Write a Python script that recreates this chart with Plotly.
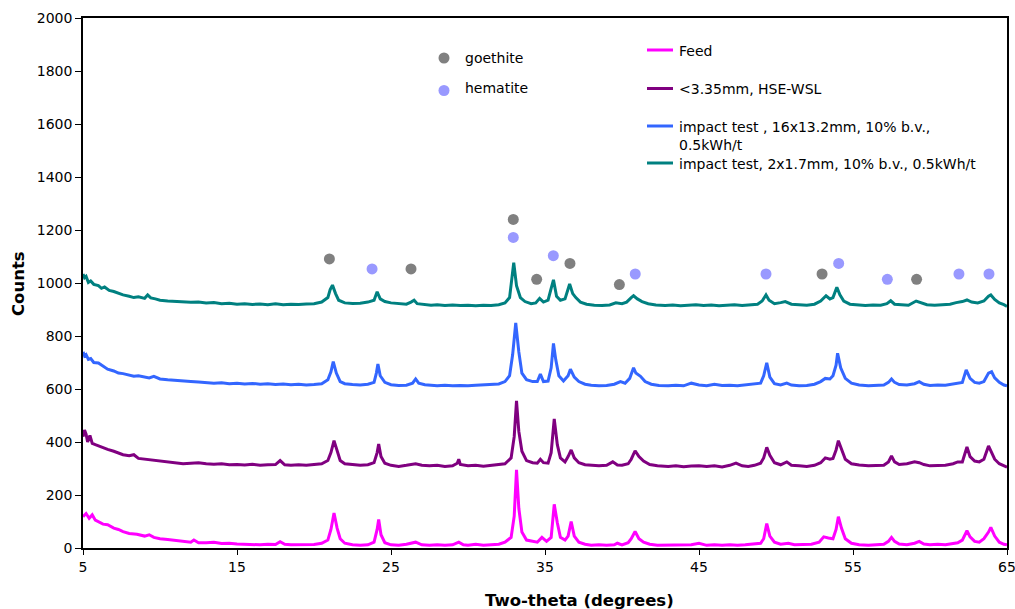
import plotly.graph_objects as go

# ---------------- data ----------------
feed_x = [5.0, 5.2, 5.4, 5.6, 5.8, 6.0, 6.3, 6.6, 7.0, 7.3, 7.6, 8.0, 8.5, 9.0, 9.3, 9.6, 10.0, 10.5, 11.0, 11.5,
          12.0, 12.2, 12.5, 13.0, 13.5, 14.0, 14.5, 15.0, 15.5, 16.0, 16.5, 17.0, 17.5, 17.8, 18.1, 18.5, 19.0, 19.5,
          20.0, 20.5, 20.9, 21.1, 21.3, 21.5, 21.7, 22.0, 22.5, 23.0, 23.5, 23.9, 24.1, 24.2, 24.35, 24.6, 25.0, 25.5,
          26.0, 26.6, 27.0, 27.5, 28.0, 28.5, 29.0, 29.4, 29.7, 30.0, 30.5, 31.0, 31.5, 32.0, 32.4, 32.8, 33.0, 33.15,
          33.3, 33.5, 33.8, 34.2, 34.5, 34.8, 35.1, 35.4, 35.6, 35.8, 36.0, 36.3, 36.5, 36.7, 36.9, 37.2, 37.6, 38.0,
          38.5, 39.0, 39.5, 39.7, 40.0, 40.4, 40.6, 40.85, 41.1, 41.4, 41.8, 42.3, 43.0, 43.5, 44.0, 44.5, 45.0, 45.5,
          46.0, 46.5, 47.0, 47.5, 48.0, 48.5, 49.0, 49.2, 49.4, 49.6, 49.9, 50.3, 50.8, 51.2, 51.8, 52.3, 52.8, 53.1,
          53.4, 53.7, 53.9, 54.05, 54.25, 54.5, 54.9, 55.4, 56.0, 56.5, 57.0, 57.3, 57.5, 57.7, 58.0, 58.5, 59.0, 59.3,
          59.6, 60.0, 60.5, 61.0, 61.5, 61.8, 62.1, 62.4, 62.6, 62.9, 63.2, 63.5, 63.8, 63.95, 64.2, 64.5, 64.8, 65.0]
feed_y = [118, 130, 112, 125, 105, 100, 90, 88, 75, 70, 62, 55, 52, 45, 50, 40, 35, 32, 28, 26,
          22, 30, 20, 20, 22, 17, 18, 15, 14, 13, 12, 14, 13, 24, 14, 12, 13, 12,
          13, 18, 30, 70, 132, 75, 35, 18, 12, 10, 12, 22, 70, 108, 50, 20, 12, 10,
          14, 22, 12, 10, 12, 10, 12, 22, 12, 10, 14, 10, 12, 14, 22, 40, 120, 295,
          150, 60, 30, 25, 22, 40, 25, 40, 165, 95, 40, 30, 45, 100, 45, 22, 14, 10,
          12, 10, 12, 18, 12, 20, 35, 62, 35, 22, 14, 10, 10, 12, 10, 12, 18, 10,
          12, 10, 12, 10, 12, 15, 18, 35, 92, 45, 22, 14, 18, 12, 12, 14, 22, 42,
          38, 35, 70, 118, 75, 35, 18, 12, 10, 12, 14, 25, 40, 25, 15, 12, 18, 25,
          15, 12, 14, 12, 18, 20, 30, 65, 42, 25, 22, 35, 60, 78, 45, 22, 14, 12]

hse_x = [5.0, 5.1, 5.2, 5.3, 5.45, 5.6, 5.8, 6.0, 6.3, 6.6, 7.0, 7.3, 7.6, 8.0, 8.3, 8.6, 9.0, 9.3, 9.6, 10.0,
         10.5, 11.0, 11.5, 12.0, 12.5, 13.0, 13.5, 14.0, 14.5, 15.0, 15.5, 16.0, 16.5, 17.0, 17.5, 17.8, 18.1, 18.5,
         19.0, 19.5, 20.0, 20.5, 20.9, 21.1, 21.3, 21.5, 21.7, 22.0, 22.5, 23.0, 23.5, 23.9, 24.1, 24.2, 24.35, 24.6,
         25.0, 25.5, 26.0, 26.6, 27.0, 27.5, 28.0, 28.5, 29.0, 29.3, 29.4, 29.5, 30.0, 30.5, 31.0, 31.5, 32.0, 32.4,
         32.8, 33.0, 33.15, 33.3, 33.5, 33.8, 34.2, 34.5, 34.7, 34.9, 35.2, 35.4, 35.6, 35.8, 36.0, 36.3, 36.5, 36.7,
         36.9, 37.2, 37.6, 38.0, 38.5, 39.0, 39.4, 39.7, 40.0, 40.4, 40.6, 40.85, 41.1, 41.4, 41.8, 42.3, 43.0, 43.5,
         44.0, 44.5, 45.0, 45.5, 46.0, 46.5, 47.0, 47.4, 47.8, 48.2, 48.6, 49.0, 49.2, 49.4, 49.6, 49.9, 50.3, 50.7,
         51.0, 51.5, 52.0, 52.5, 52.9, 53.2, 53.5, 53.7, 53.9, 54.05, 54.25, 54.5, 54.9, 55.4, 56.0, 56.5, 57.0, 57.3,
         57.5, 57.7, 58.0, 58.5, 59.0, 59.3, 59.6, 60.0, 60.5, 61.0, 61.5, 61.8, 62.1, 62.4, 62.6, 62.9, 63.2, 63.5,
         63.8, 63.95, 64.2, 64.5, 64.8, 65.0]
hse_y = [420, 445, 430, 400, 425, 395, 390, 385, 378, 372, 365, 358, 352, 348, 352, 338, 335, 332, 330, 328,
         325, 322, 318, 320, 322, 318, 316, 318, 314, 315, 313, 316, 312, 314, 315, 330, 314, 312,
         314, 312, 315, 318, 330, 360, 405, 365, 330, 318, 315, 312, 314, 322, 360, 392, 345, 320,
         312, 308, 312, 318, 312, 310, 312, 308, 310, 320, 335, 315, 310, 312, 309, 312, 313, 318,
         340, 420, 555, 440, 365, 330, 322, 320, 335, 322, 320, 360, 487, 390, 340, 325, 345, 370,
         340, 322, 314, 312, 310, 312, 325, 313, 312, 318, 335, 367, 345, 328, 315, 310, 308, 310,
         307, 309, 310, 308, 310, 306, 312, 320, 310, 308, 312, 320, 340, 380, 350, 322, 314, 325,
         312, 310, 308, 312, 322, 340, 335, 338, 370, 405, 370, 335, 318, 313, 310, 311, 312, 325,
         347, 325, 315, 318, 325, 322, 315, 310, 312, 312, 318, 325, 325, 381, 345, 328, 325, 335,
         385, 365, 335, 318, 310, 305]

imp16_x = [5.0, 5.1, 5.2, 5.35, 5.5, 5.7, 6.0, 6.3, 6.6, 7.0, 7.3, 7.6, 8.0, 8.3, 8.6, 9.0, 9.3, 9.6, 10.0, 10.5,
           11.0, 11.5, 12.0, 12.5, 13.0, 13.5, 14.0, 14.5, 15.0, 15.5, 16.0, 16.5, 17.0, 17.5, 18.0, 18.5, 19.0, 19.5,
           20.0, 20.5, 20.9, 21.1, 21.25, 21.45, 21.7, 22.0, 22.5, 23.0, 23.5, 23.9, 24.05, 24.15, 24.3, 24.6, 25.0,
           25.5, 26.0, 26.4, 26.6, 26.8, 27.2, 27.6, 28.0, 28.5, 29.0, 29.5, 30.0, 30.5, 31.0, 31.5, 32.0, 32.4, 32.7,
           32.9, 33.1, 33.3, 33.5, 33.8, 34.2, 34.5, 34.7, 34.9, 35.2, 35.4, 35.55, 35.7, 35.9, 36.2, 36.5, 36.65, 36.9,
           37.2, 37.6, 38.0, 38.5, 39.0, 39.5, 39.9, 40.2, 40.5, 40.75, 40.9, 41.2, 41.5, 41.9, 42.4, 43.0, 43.5, 44.0,
           44.5, 45.0, 45.5, 46.0, 46.5, 47.0, 47.5, 48.0, 48.5, 49.0, 49.2, 49.4, 49.6, 49.9, 50.3, 50.7, 51.0, 51.5,
           52.0, 52.5, 52.9, 53.2, 53.5, 53.7, 53.9, 54.0, 54.2, 54.5, 54.9, 55.4, 56.0, 56.5, 57.0, 57.3, 57.5, 57.7,
           58.0, 58.5, 59.0, 59.3, 59.6, 60.0, 60.5, 61.0, 61.5, 61.8, 62.1, 62.35, 62.6, 62.9, 63.2, 63.5, 63.8, 64.0,
           64.2, 64.5, 64.8, 65.0]
imp16_y = [740, 725, 730, 712, 715, 700, 698, 688, 675, 668, 660, 658, 652, 648, 650, 645, 642, 648, 638, 635,
           632, 630, 628, 626, 625, 622, 624, 620, 622, 619, 621, 618, 620, 617, 619, 616, 618, 615,
           617, 620, 635, 665, 703, 660, 628, 620, 617, 615, 618, 625, 660, 694, 650, 625, 616,
           613, 614, 622, 638, 622, 616, 613, 612, 614, 612, 613, 612, 614, 615, 617, 619, 628, 650,
           730, 849, 740, 660, 635, 628, 628, 656, 628, 630, 680, 772, 710, 650, 630, 650, 675, 645,
           628, 618, 614, 612, 613, 618, 628, 622, 640, 680, 660, 648, 628, 618, 613, 612, 614, 612,
           622, 615, 612, 618, 613, 614, 612, 615, 618, 622, 650, 699, 645, 620, 615, 622, 615, 612,
           613, 618, 628, 640, 638, 650, 690, 735, 680, 640, 622, 615, 612, 614, 615, 625, 638, 625,
           617, 615, 620, 628, 618, 613, 615, 614, 618, 622, 625, 672, 640, 625, 622, 628, 660, 665,
           642, 625, 615, 612]

imp2_x = [5.0, 5.1, 5.2, 5.35, 5.5, 5.7, 6.0, 6.2, 6.4, 6.7, 7.0, 7.3, 7.6, 8.0, 8.3, 8.6, 9.0, 9.2, 9.4, 9.7,
          10.0, 10.5, 11.0, 11.5, 12.0, 12.5, 13.0, 13.5, 14.0, 14.5, 15.0, 15.5, 16.0, 16.5, 17.0, 17.5, 18.0, 18.5,
          19.0, 19.5, 20.0, 20.5, 20.9, 21.05, 21.2, 21.4, 21.6, 22.0, 22.5, 23.0, 23.5, 23.9, 24.1, 24.3, 24.6, 25.0,
          25.5, 26.0, 26.3, 26.5, 26.7, 27.2, 27.6, 28.0, 28.5, 29.0, 29.5, 30.0, 30.5, 31.0, 31.5, 32.0, 32.4, 32.7,
          32.85, 32.97, 33.15, 33.4, 33.7, 34.1, 34.4, 34.65, 34.9, 35.2, 35.4, 35.55, 35.75, 36.0, 36.3, 36.5, 36.6,
          36.8, 37.0, 37.3, 37.7, 38.2, 38.7, 39.2, 39.6, 40.0, 40.3, 40.6, 40.75, 41.0, 41.3, 41.7, 42.2, 42.8, 43.3,
          43.8, 44.3, 44.8, 45.3, 45.8, 46.3, 46.8, 47.3, 47.8, 48.3, 48.8, 49.1, 49.35, 49.55, 49.9, 50.3, 50.6, 51.0,
          51.5, 52.0, 52.5, 52.9, 53.25, 53.5, 53.7, 53.95, 54.15, 54.4, 54.8, 55.3, 55.8, 56.3, 56.8, 57.2, 57.45,
          57.7, 58.1, 58.6, 59.1, 59.4, 59.8, 60.3, 60.8, 61.3, 61.7, 62.1, 62.4, 62.7, 63.1, 63.5, 63.8, 63.95, 64.2,
          64.5, 64.8, 65.0]
imp2_y = [1034, 1020, 1025, 1002, 1008, 995, 990, 980, 985, 972, 968, 960, 955, 950, 945, 948, 942, 955, 944, 940,
          935, 932, 930, 928, 927, 928, 925, 926, 922, 924, 920, 922, 919, 921, 918, 922, 918, 920,
          919, 921, 922, 928, 945, 975, 992, 960, 935, 925, 923, 924, 928, 935, 967, 940, 930, 925,
          922, 920, 928, 935, 922, 918, 916, 918, 915, 917, 915, 916, 914, 916, 915, 918, 925, 945,
          1010, 1077, 990, 945, 930, 922, 925, 942, 928, 935, 980, 1012, 950, 935, 940, 975, 996,
          960, 945, 928, 920, 916, 915, 917, 925, 922, 928, 945, 952, 940, 930, 922, 917, 915, 917,
          914, 916, 918, 915, 917, 914, 916, 918, 915, 917, 920, 932, 955, 935, 922, 926, 930, 920,
          918, 916, 920, 932, 952, 940, 945, 984, 955, 932, 920, 917, 915, 917, 916, 922, 933,
          920, 917, 916, 932, 925, 918, 916, 917, 920, 926, 930, 936, 928, 925, 932, 950, 955, 938,
          925, 918, 912]

goethite_x = [21.0, 26.3, 32.94, 34.46, 36.62, 39.83, 52.99, 59.13]
goethite_y = [1091, 1053, 1240, 1014, 1074, 994, 1034, 1014]
hematite_x = [23.77, 32.94, 35.54, 40.86, 49.35, 54.07, 57.23, 61.88, 63.83]
hematite_y = [1053, 1172, 1103, 1034, 1034, 1074, 1014, 1034, 1034]

series_names = ["Feed", "<3.35mm, HSE-WSL",
                "impact test , 16x13.2mm, 10% b.v.,<br>0.5kWh/t",
                "impact test, 2x1.7mm, 10% b.v., 0.5kWh/t"]
series_colors = ["#FF00FF", "#800080", "#3366FF", "#008080"]
phase_names = ["goethite", "hematite"]
phase_colors = ["#808080", "#9999FF"]

x_ticks = [5, 15, 25, 35, 45, 55, 65]

# ---------------- figure ----------------
FONT = "DejaVu Sans"
fig = go.Figure()

series_x = [feed_x, hse_x, imp16_x, imp2_x]
series_y = [feed_y, hse_y, imp16_y, imp2_y]
for xs, ys, name, col in zip(series_x, series_y, series_names, series_colors):
    fig.add_trace(go.Scatter(x=xs, y=ys, mode="lines", name=name,
                             line=dict(color=col, width=3), showlegend=False))

for xs, ys, name, col in zip([goethite_x, hematite_x], [goethite_y, hematite_y],
                             phase_names, phase_colors):
    fig.add_trace(go.Scatter(x=xs, y=ys, mode="markers", name=name,
                             marker=dict(color=col, size=11, line=dict(width=0)),
                             showlegend=False))

# figure is slightly wider than the 1015px window so the "65" tick label
# can hang past the plot edge (as in the reference) and be clipped by the window
W, H = 1027, 609
L, R, T, B = 83, 20, 18, 61
pw, ph = W - L - R, H - T - B


def px(xp):
    return (xp - L) / pw


def py(yp):
    return (H - B - yp) / ph


shapes = []
annotations = []

# phase legend (marker samples + labels)
for name, col, my, ty in zip(phase_names, phase_colors, [58, 90.5], [58, 88]):
    shapes.append(dict(type="circle", xref="paper", yref="paper",
                       xsizemode="pixel", ysizemode="pixel",
                       xanchor=px(444), yanchor=py(my),
                       x0=-5.5, x1=5.5, y0=-5.5, y1=5.5,
                       fillcolor=col, line=dict(width=0)))
    annotations.append(dict(text=name, xref="paper", yref="paper",
                            x=px(463), y=py(ty), xanchor="left", yanchor="middle",
                            showarrow=False, font=dict(family=FONT, size=14, color="#000")))

# series legend (line samples + labels)
line_y = [50, 88.5, 126, 163]
text_y = [51, 89, 135.5, 164]
for name, col, ly, ty in zip(series_names, series_colors, line_y, text_y):
    shapes.append(dict(type="line", xref="paper", yref="paper",
                       x0=px(647), x1=px(673), y0=py(ly), y1=py(ly),
                       line=dict(color=col, width=3)))
    annotations.append(dict(text=name, xref="paper", yref="paper",
                            x=px(677), y=py(ty), xanchor="left", yanchor="middle",
                            align="left", showarrow=False,
                            font=dict(family=FONT, size=14, color="#000")))

# axis titles
annotations.append(dict(text="Two-theta (degrees)", xref="paper", yref="paper",
                        x=px(579), y=py(600), xanchor="center", yanchor="middle",
                        showarrow=False,
                        font=dict(family=FONT, size=16.5, color="#000", weight="bold")))
annotations.append(dict(text="Counts", xref="paper", yref="paper",
                        x=px(18), y=py(284), xanchor="center", yanchor="middle",
                        textangle=-90, showarrow=False,
                        font=dict(family=FONT, size=16.5, color="#000", weight="bold")))

fig.update_layout(
    width=W, height=H,
    margin=dict(l=L, r=R, t=T, b=B, pad=0, autoexpand=False),
    paper_bgcolor="white", plot_bgcolor="white",
    font=dict(family=FONT, size=14, color="#000"),
    showlegend=False,
    shapes=shapes, annotations=annotations,
)
fig.update_xaxes(range=[5, 65], tickvals=x_ticks, ticktext=[str(v) for v in x_ticks],
                 automargin=False,
                 showgrid=False, zeroline=False, showline=True, linecolor="black",
                 linewidth=1.5, mirror=True, ticks="outside", ticklen=5, tickwidth=1,
                 tickcolor="black", tickfont=dict(family=FONT, size=14, color="#000"))
fig.update_yaxes(range=[0, 2000], dtick=200, tick0=0, automargin=False,
                 showgrid=False, zeroline=False, showline=True, linecolor="black",
                 linewidth=1.5, mirror=True, ticks="outside", ticklen=6, tickwidth=1,
                 tickcolor="black", tickfont=dict(family=FONT, size=14, color="#000"))

fig.write_html(
    "out.html",
    config={"displayModeBar": False},
    post_script="document.body.style.margin='0px';document.body.style.overflow='hidden';",
)
